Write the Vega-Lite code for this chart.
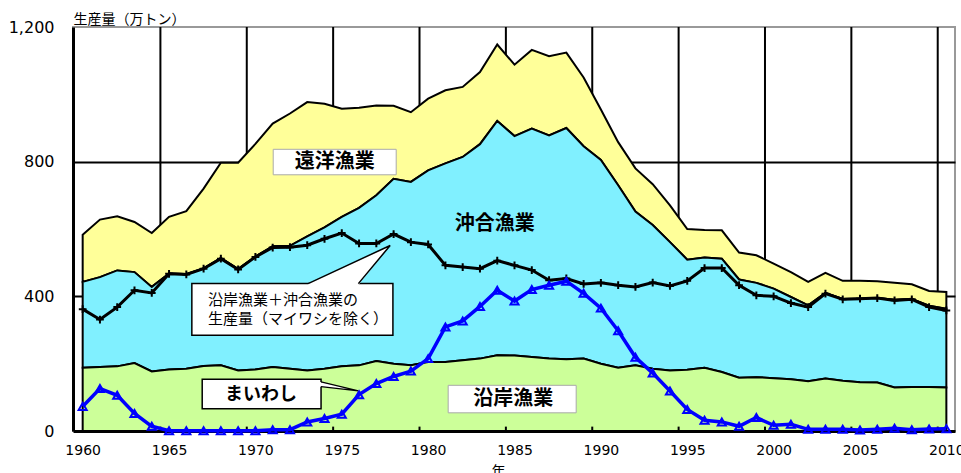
{
  "$schema": "https://vega.github.io/schema/vega-lite/v6.json",
  "width": 882,
  "height": 404,
  "autosize": {"type": "none"},
  "padding": {"left": 73, "top": 27, "right": 6, "bottom": 42},
  "background": "white",
  "config": {"view": {"stroke": "#999", "strokeWidth": 2}, "font": "Noto Sans CJK JP"},
  "datasets": {
    "main": [
      {"year": 1960, "coastal": 188, "coastalOffshore": 443, "total": 583, "exSardine": 362, "sardine": 73},
      {"year": 1961, "coastal": 190, "coastalOffshore": 457, "total": 628, "exSardine": 331, "sardine": 126},
      {"year": 1962, "coastal": 192, "coastalOffshore": 477, "total": 638, "exSardine": 368, "sardine": 106},
      {"year": 1963, "coastal": 202, "coastalOffshore": 472, "total": 621, "exSardine": 418, "sardine": 52},
      {"year": 1964, "coastal": 177, "coastalOffshore": 428, "total": 588, "exSardine": 410, "sardine": 14},
      {"year": 1965, "coastal": 183, "coastalOffshore": 468, "total": 636, "exSardine": 467, "sardine": 1},
      {"year": 1966, "coastal": 185, "coastalOffshore": 466, "total": 653, "exSardine": 465, "sardine": 1},
      {"year": 1967, "coastal": 193, "coastalOffshore": 483, "total": 720, "exSardine": 482, "sardine": 1},
      {"year": 1968, "coastal": 195, "coastalOffshore": 513, "total": 797, "exSardine": 512, "sardine": 1},
      {"year": 1969, "coastal": 180, "coastalOffshore": 481, "total": 797, "exSardine": 480, "sardine": 1},
      {"year": 1970, "coastal": 183, "coastalOffshore": 518, "total": 853, "exSardine": 517, "sardine": 1},
      {"year": 1971, "coastal": 190, "coastalOffshore": 549, "total": 913, "exSardine": 545, "sardine": 4},
      {"year": 1972, "coastal": 185, "coastalOffshore": 550, "total": 943, "exSardine": 546, "sardine": 4},
      {"year": 1973, "coastal": 180, "coastalOffshore": 578, "total": 977, "exSardine": 552, "sardine": 27},
      {"year": 1974, "coastal": 185, "coastalOffshore": 605, "total": 972, "exSardine": 571, "sardine": 37},
      {"year": 1975, "coastal": 192, "coastalOffshore": 636, "total": 957, "exSardine": 588, "sardine": 50},
      {"year": 1976, "coastal": 195, "coastalOffshore": 663, "total": 960, "exSardine": 557, "sardine": 108},
      {"year": 1977, "coastal": 208, "coastalOffshore": 700, "total": 967, "exSardine": 557, "sardine": 141},
      {"year": 1978, "coastal": 200, "coastalOffshore": 749, "total": 966, "exSardine": 585, "sardine": 162},
      {"year": 1979, "coastal": 195, "coastalOffshore": 740, "total": 947, "exSardine": 561, "sardine": 178},
      {"year": 1980, "coastal": 205, "coastalOffshore": 774, "total": 987, "exSardine": 554, "sardine": 215},
      {"year": 1981, "coastal": 205, "coastalOffshore": 795, "total": 1012, "exSardine": 492, "sardine": 309},
      {"year": 1982, "coastal": 210, "coastalOffshore": 814, "total": 1022, "exSardine": 487, "sardine": 327},
      {"year": 1983, "coastal": 215, "coastalOffshore": 852, "total": 1066, "exSardine": 482, "sardine": 370},
      {"year": 1984, "coastal": 225, "coastalOffshore": 921, "total": 1148, "exSardine": 506, "sardine": 418},
      {"year": 1985, "coastal": 224, "coastalOffshore": 876, "total": 1088, "exSardine": 492, "sardine": 386},
      {"year": 1986, "coastal": 220, "coastalOffshore": 898, "total": 1132, "exSardine": 478, "sardine": 420},
      {"year": 1987, "coastal": 215, "coastalOffshore": 878, "total": 1113, "exSardine": 448, "sardine": 433},
      {"year": 1988, "coastal": 213, "coastalOffshore": 900, "total": 1124, "exSardine": 453, "sardine": 445},
      {"year": 1989, "coastal": 215, "coastalOffshore": 846, "total": 1050, "exSardine": 437, "sardine": 409},
      {"year": 1990, "coastal": 200, "coastalOffshore": 805, "total": 955, "exSardine": 440, "sardine": 365},
      {"year": 1991, "coastal": 188, "coastalOffshore": 730, "total": 858, "exSardine": 433, "sardine": 298},
      {"year": 1992, "coastal": 195, "coastalOffshore": 652, "total": 780, "exSardine": 428, "sardine": 219},
      {"year": 1993, "coastal": 185, "coastalOffshore": 612, "total": 733, "exSardine": 441, "sardine": 172},
      {"year": 1994, "coastal": 180, "coastalOffshore": 561, "total": 670, "exSardine": 431, "sardine": 119},
      {"year": 1995, "coastal": 182, "coastalOffshore": 509, "total": 600, "exSardine": 446, "sardine": 64},
      {"year": 1996, "coastal": 188, "coastalOffshore": 515, "total": 597, "exSardine": 484, "sardine": 32},
      {"year": 1997, "coastal": 175, "coastalOffshore": 512, "total": 596, "exSardine": 484, "sardine": 27},
      {"year": 1998, "coastal": 158, "coastalOffshore": 450, "total": 530, "exSardine": 433, "sardine": 14},
      {"year": 1999, "coastal": 160, "coastalOffshore": 440, "total": 522, "exSardine": 403, "sardine": 40},
      {"year": 2000, "coastal": 157, "coastalOffshore": 423, "total": 497, "exSardine": 400, "sardine": 17},
      {"year": 2001, "coastal": 154, "coastalOffshore": 398, "total": 472, "exSardine": 380, "sardine": 20},
      {"year": 2002, "coastal": 148, "coastalOffshore": 373, "total": 443, "exSardine": 368, "sardine": 5},
      {"year": 2003, "coastal": 156, "coastalOffshore": 410, "total": 470, "exSardine": 408, "sardine": 5},
      {"year": 2004, "coastal": 149, "coastalOffshore": 392, "total": 446, "exSardine": 391, "sardine": 5},
      {"year": 2005, "coastal": 145, "coastalOffshore": 393, "total": 446, "exSardine": 393, "sardine": 3},
      {"year": 2006, "coastal": 144, "coastalOffshore": 395, "total": 445, "exSardine": 395, "sardine": 5},
      {"year": 2007, "coastal": 129, "coastalOffshore": 390, "total": 440, "exSardine": 388, "sardine": 8},
      {"year": 2008, "coastal": 131, "coastalOffshore": 392, "total": 436, "exSardine": 391, "sardine": 4},
      {"year": 2009, "coastal": 131, "coastalOffshore": 372, "total": 416, "exSardine": 368, "sardine": 6},
      {"year": 2010, "coastal": 129, "coastalOffshore": 363, "total": 413, "exSardine": 358, "sardine": 7}
    ],
    "grid": [
      {"g": 1964.5}, {"g": 1969.5}, {"g": 1974.5}, {"g": 1979.5}, {"g": 1984.5},
      {"g": 1989.5}, {"g": 1994.5}, {"g": 1999.5}, {"g": 2004.5}, {"g": 2009.5}
    ]
  },
  "layer": [
    {
      "data": {"name": "grid"},
      "mark": {"type": "rule", "color": "black", "strokeWidth": 2},
      "encoding": {
        "x": {
          "field": "g", "type": "quantitative", "title": "年",
          "scale": {"domain": [1959.44, 2010.5], "nice": false, "zero": false},
          "axis": {
            "values": [1960, 1965, 1970, 1975, 1980, 1985, 1990, 1995, 2000, 2005, 2010],
            "format": "d", "grid": false, "ticks": false, "labelFlush": false, "labelOverlap": false,
            "domainColor": "black", "domainWidth": 3, "labelPadding": 12,
            "labelFont": "DejaVu Sans", "labelFontSize": 14, "labelColor": "black",
            "titleFont": "Noto Sans CJK JP", "titleFontSize": 14, "titleFontWeight": "normal",
            "titleColor": "black", "titleX": 425, "titleY": 33, "titleBaseline": "top"
          }
        },
        "y": {
          "datum": 0, "type": "quantitative", "title": "生産量（万トン）",
          "scale": {"domain": [0, 1200], "nice": false},
          "axis": {
            "values": [0, 400, 800, 1200], "format": ",.0f", "grid": true,
            "gridColor": {"condition": {"test": "datum.value === 1200 || datum.value === 0", "value": "transparent"}, "value": "black"},
            "gridWidth": 2, "ticks": false, "domainColor": "black", "domainWidth": 3,
            "labelPadding": 19, "labelFont": "DejaVu Sans", "labelFontSize": 16, "labelColor": "black",
            "titleAngle": 0, "titleAlign": "left", "titleBaseline": "bottom", "titleX": 0, "titleY": -1,
            "titleFont": "Noto Sans CJK JP", "titleFontSize": 14, "titleFontWeight": "normal", "titleColor": "black"
          }
        },
        "y2": {"datum": 1200}
      }
    },
    {
      "data": {"name": "main"},
      "mark": {"type": "area", "fill": "#FFFF99", "fillOpacity": 1, "stroke": "black", "strokeWidth": 2},
      "encoding": {
        "x": {"field": "year", "type": "quantitative", "title": "年"},
        "y": {"field": "total", "type": "quantitative", "title": "生産量（万トン）"},
        "y2": {"field": "coastalOffshore"}
      }
    },
    {
      "data": {"name": "main"},
      "mark": {"type": "area", "fill": "#80F0FF", "fillOpacity": 1, "stroke": "black", "strokeWidth": 2},
      "encoding": {
        "x": {"field": "year", "type": "quantitative", "title": "年"},
        "y": {"field": "coastalOffshore", "type": "quantitative", "title": "生産量（万トン）"},
        "y2": {"field": "coastal"}
      }
    },
    {
      "data": {"name": "main"},
      "mark": {"type": "area", "fill": "#CCFF99", "fillOpacity": 1, "stroke": "black", "strokeWidth": 2},
      "encoding": {
        "x": {"field": "year", "type": "quantitative", "title": "年"},
        "y": {"field": "coastal", "type": "quantitative", "title": "生産量（万トン）"},
        "y2": {"datum": 0}
      }
    },
    {
      "data": {"name": "grid"},
      "mark": {"type": "rule", "color": "black", "strokeWidth": 2},
      "encoding": {
        "x": {"field": "g", "type": "quantitative", "title": "年"},
        "y": {"datum": 0, "type": "quantitative", "title": "生産量（万トン）"},
        "y2": {"datum": 13}
      }
    },
    {
      "data": {"values": [
        {"x": 1966.32, "x2": 1977.96, "y": 437.8, "y2": 284.2},
        {"x": 1966.92, "x2": 1973.8, "y": 153.5, "y2": 66}
      ]},
      "mark": {"type": "rect", "fill": "white", "stroke": "black", "strokeWidth": 1.5},
      "encoding": {
        "x": {"field": "x", "type": "quantitative", "title": "年"},
        "x2": {"field": "x2"},
        "y": {"field": "y", "type": "quantitative", "title": "生産量（万トン）"},
        "y2": {"field": "y2"}
      }
    },
    {
      "data": {"values": [
        {"x": 1971.03, "x2": 1978.15, "y": 836.7, "y2": 761},
        {"x": 1981.16, "x2": 1988.57, "y": 135.7, "y2": 54}
      ]},
      "mark": {"type": "rect", "fill": "white", "stroke": "#aaaaaa", "strokeWidth": 1},
      "encoding": {
        "x": {"field": "x", "type": "quantitative", "title": "年"},
        "x2": {"field": "x2"},
        "y": {"field": "y", "type": "quantitative", "title": "生産量（万トン）"},
        "y2": {"field": "y2"}
      }
    },
    {
      "data": {"values": [
        {"x": 1973.05, "y": 438, "y2": 434},
        {"x": 1975.96, "y": 507.5, "y2": 434},
        {"x": 1977.8, "y": 551, "y2": 551}
      ]},
      "mark": {"type": "area", "fill": "white", "fillOpacity": 1},
      "encoding": {
        "x": {"field": "x", "type": "quantitative", "title": "年"},
        "y": {"field": "y", "type": "quantitative", "title": "生産量（万トン）"},
        "y2": {"field": "y2"}
      }
    },
    {
      "data": {"values": [
        {"x": 1973.05, "y": 437.8, "o": 1},
        {"x": 1977.8, "y": 551, "o": 2},
        {"x": 1975.96, "y": 437.8, "o": 3}
      ]},
      "mark": {"type": "line", "color": "black", "strokeWidth": 1.5},
      "encoding": {
        "x": {"field": "x", "type": "quantitative", "title": "年"},
        "y": {"field": "y", "type": "quantitative", "title": "生産量（万トン）"},
        "order": {"field": "o"}
      }
    },
    {
      "data": {"values": [
        {"x": 1973.7, "y": 146, "y2": 132},
        {"x": 1975.96, "y": 119, "y2": 119}
      ]},
      "mark": {"type": "area", "fill": "white", "fillOpacity": 1},
      "encoding": {
        "x": {"field": "x", "type": "quantitative", "title": "年"},
        "y": {"field": "y", "type": "quantitative", "title": "生産量（万トン）"},
        "y2": {"field": "y2"}
      }
    },
    {
      "data": {"values": [
        {"x": 1973.8, "y": 146, "o": 1},
        {"x": 1975.96, "y": 119, "o": 2},
        {"x": 1973.8, "y": 132, "o": 3}
      ]},
      "mark": {"type": "line", "color": "black", "strokeWidth": 1.2},
      "encoding": {
        "x": {"field": "x", "type": "quantitative", "title": "年"},
        "y": {"field": "y", "type": "quantitative", "title": "生産量（万トン）"},
        "order": {"field": "o"}
      }
    },
    {
      "data": {"name": "main"},
      "mark": {"type": "line", "color": "black", "strokeWidth": 3},
      "encoding": {
        "x": {"field": "year", "type": "quantitative", "title": "年"},
        "y": {"field": "exSardine", "type": "quantitative", "title": "生産量（万トン）"}
      }
    },
    {
      "data": {"name": "main"},
      "mark": {"type": "point", "shape": "M0,-1L0,1M-1,0L1,0", "filled": false, "stroke": "black", "strokeWidth": 2, "size": 60, "opacity": 1},
      "encoding": {
        "x": {"field": "year", "type": "quantitative", "title": "年"},
        "y": {"field": "exSardine", "type": "quantitative", "title": "生産量（万トン）"}
      }
    },
    {
      "data": {"name": "main"},
      "mark": {"type": "line", "color": "#0000FF", "strokeWidth": 3.5},
      "encoding": {
        "x": {"field": "year", "type": "quantitative", "title": "年"},
        "y": {"field": "sardine", "type": "quantitative", "title": "生産量（万トン）"}
      }
    },
    {
      "data": {"name": "main"},
      "mark": {"type": "point", "shape": "triangle-up", "filled": false, "stroke": "#0000FF", "strokeWidth": 2, "size": 65, "opacity": 1},
      "encoding": {
        "x": {"field": "year", "type": "quantitative", "title": "年"},
        "y": {"field": "sardine", "type": "quantitative", "title": "生産量（万トン）"}
      }
    },
    {
      "data": {"values": [
        {"x": 1974.6, "y": 798, "t": "遠洋漁業"},
        {"x": 1983.85, "y": 616, "t": "沖合漁業"},
        {"x": 1984.92, "y": 94, "t": "沿岸漁業"}
      ]},
      "mark": {"type": "text", "font": "Noto Sans CJK JP", "fontSize": 20, "fontWeight": "bold", "color": "black", "align": "center", "baseline": "middle"},
      "encoding": {
        "x": {"field": "x", "type": "quantitative", "title": "年"},
        "y": {"field": "y", "type": "quantitative", "title": "生産量（万トン）"},
        "text": {"field": "t"}
      }
    },
    {
      "data": {"values": [
        {"x": 1970.33, "y": 108, "t": "まいわし"}
      ]},
      "mark": {"type": "text", "font": "Noto Sans CJK JP", "fontSize": 18, "fontWeight": "bold", "color": "black", "align": "center", "baseline": "middle"},
      "encoding": {
        "x": {"field": "x", "type": "quantitative", "title": "年"},
        "y": {"field": "y", "type": "quantitative", "title": "生産量（万トン）"},
        "text": {"field": "t"}
      }
    },
    {
      "data": {"values": [
        {"x": 1967.26, "y": 388, "t": "沿岸漁業＋沖合漁業の"},
        {"x": 1967.26, "y": 332, "t": "生産量（マイワシを除く）"}
      ]},
      "mark": {"type": "text", "font": "Noto Sans CJK JP", "fontSize": 15, "fontWeight": "normal", "color": "black", "align": "left", "baseline": "middle"},
      "encoding": {
        "x": {"field": "x", "type": "quantitative", "title": "年"},
        "y": {"field": "y", "type": "quantitative", "title": "生産量（万トン）"},
        "text": {"field": "t"}
      }
    }
  ]
}
